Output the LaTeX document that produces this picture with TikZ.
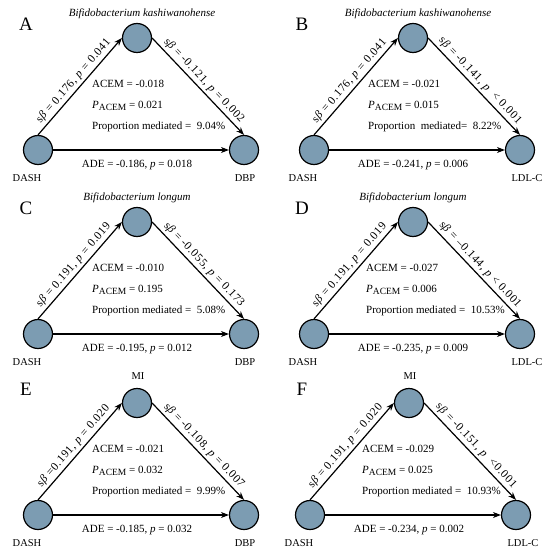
\documentclass[tikz,border=0pt]{standalone}
\usepackage{fontspec}
\setmainfont{Liberation Serif}
\usepackage{xcolor}
\usepackage{tikz}
\usetikzlibrary{arrows.meta, positioning}
\definecolor{medBlue}{RGB}{124, 156, 178}
\newcommand{\acemsub}{\raisebox{-0.45ex}{\fontsize{9.5}{10}\selectfont ACEM}}

\begin{document}
\begin{tikzpicture}[
  x=1pt, y=-1pt,
  dot/.style={circle, draw=black, line width=1.2pt, fill=medBlue,
    minimum size=29pt, inner sep=0pt},
  letter/.style={font=\fontsize{19}{20}\selectfont},
  title/.style={font=\fontsize{11}{12}\selectfont\itshape},
  varname/.style={font=\fontsize{10.5}{12}\selectfont},
  stat/.style={font=\fontsize{11}{13}\selectfont, anchor=west, inner sep=0pt},
  path/.style={font=\fontsize{11.5}{12}\selectfont\addfontfeatures{LetterSpace=5},
    midway, sloped, above=2.5pt, inner sep=0pt},
  link/.style={line width=1.2pt, -{Stealth[length=8pt, width=6pt]}},
  ade/.style={font=\fontsize{11}{13}\selectfont, midway, below=6pt, xshift=-4pt}
]
\useasboundingbox (0,0) rectangle (550,553);

% panel A
\begin{scope}[shift={(0,0)}]
\node[letter] (tagA) at (26,24) {A};
\node[title] (medA) at (142,14) {Bifidobacterium kashiwanohense};
\node[dot] (dashA) at (38,150) {};
\node[dot] (midA) at (137,38) {};
\node[dot] (outA) at (244,150) {};
\node[varname] (dashlabA) at (27,178) {DASH};
\node[varname] (outlabA) at (245,178) {DBP};
\node[stat] (acemA) at (92,84) {ACEM = -0.018};
\node[stat] (pacemA) at (92,106) {\textit{P}\acemsub{} = 0.021};
\node[stat] (propA) at (92,127) {Proportion mediated =\ \ 9.04\%};
\draw[link] (dashA.north) -- node[path] {s\textit{β} = 0.176, \textit{p} = 0.041} (midA.west);
\draw[link] (midA.east) -- node[path] {s\textit{β} = -0.121, \textit{p} = 0.002} (outA.north);
\draw[link] (dashA.east) -- node[ade] {ADE = -0.186, \textit{p} = 0.018} (outA.west);
\end{scope}

% panel B
\begin{scope}[shift={(276,0)}]
\node[letter] (tagB) at (26,24) {B};
\node[title] (medB) at (142,14) {Bifidobacterium kashiwanohense};
\node[dot] (dashB) at (38,150) {};
\node[dot] (midB) at (137,38) {};
\node[dot] (outB) at (244,150) {};
\node[varname] (dashlabB) at (27,178) {DASH};
\node[varname] (outlabB) at (251,178) {LDL-C};
\node[stat] (acemB) at (92,84) {ACEM = -0.021};
\node[stat] (pacemB) at (92,106) {\textit{P}\acemsub{} = 0.015};
\node[stat] (propB) at (92,127) {Proportion\ \ mediated= \ 8.22\%};
\draw[link] (dashB.north) -- node[path] {s\textit{β} = 0.176, \textit{p} = 0.041} (midB.west);
\draw[link] (midB.east) -- node[path] {s\textit{β} = -0.141, \textit{p} \ < 0.001} (outB.north);
\draw[link] (dashB.east) -- node[ade] {ADE = -0.241, \textit{p} = 0.006} (outB.west);
\end{scope}

% panel C
\begin{scope}[shift={(0,184)}]
\node[letter] (tagC) at (26,24) {C};
\node[title] (medC) at (137,14) {Bifidobacterium longum};
\node[dot] (dashC) at (38,150) {};
\node[dot] (midC) at (137,38) {};
\node[dot] (outC) at (244,150) {};
\node[varname] (dashlabC) at (27,178) {DASH};
\node[varname] (outlabC) at (245,178) {DBP};
\node[stat] (acemC) at (92,84) {ACEM = -0.010};
\node[stat] (pacemC) at (92,106) {\textit{P}\acemsub{} = 0.195};
\node[stat] (propC) at (92,127) {Proportion mediated =\ \ 5.08\%};
\draw[link] (dashC.north) -- node[path] {s\textit{β} = 0.191, \textit{p} = 0.019} (midC.west);
\draw[link] (midC.east) -- node[path] {s\textit{β} = -0.055, \textit{p} = 0.173} (outC.north);
\draw[link] (dashC.east) -- node[ade] {ADE = -0.195, \textit{p} = 0.012} (outC.west);
\end{scope}

% panel D
\begin{scope}[shift={(276,184)}]
\node[letter] (tagD) at (26,24) {D};
\node[title] (medD) at (137,14) {Bifidobacterium longum};
\node[dot] (dashD) at (38,150) {};
\node[dot] (midD) at (137,38) {};
\node[dot] (outD) at (244,150) {};
\node[varname] (dashlabD) at (27,178) {DASH};
\node[varname] (outlabD) at (251,178) {LDL-C};
\node[stat] (acemD) at (90,84) {ACEM = -0.027};
\node[stat] (pacemD) at (90,106) {\textit{P}\acemsub{} = 0.006};
\node[stat] (propD) at (90,127) {Proportion mediated =\ \ 10.53\%};
\draw[link] (dashD.north) -- node[path] {s\textit{β} = 0.191, \textit{p} = 0.019} (midD.west);
\draw[link] (midD.east) -- node[path] {s\textit{β} = –0.144, \textit{p} < 0.001} (outD.north);
\draw[link] (dashD.east) -- node[ade] {ADE = -0.235, \textit{p} = 0.009} (outD.west);
\end{scope}

% panel E
\begin{scope}[shift={(0,365)}]
\node[letter] (tagE) at (26,24) {E};
\node[varname] (medE) at (138,11) {MI};
\node[dot] (dashE) at (38,150) {};
\node[dot] (midE) at (137,38) {};
\node[dot] (outE) at (244,150) {};
\node[varname] (dashlabE) at (27,178) {DASH};
\node[varname] (outlabE) at (245,178) {DBP};
\node[stat] (acemE) at (92,84) {ACEM = -0.021};
\node[stat] (pacemE) at (92,106) {\textit{P}\acemsub{} = 0.032};
\node[stat] (propE) at (92,127) {Proportion mediated =\ \ 9.99\%};
\draw[link] (dashE.north) -- node[path] {s\textit{β} =0.191, \textit{p} = 0.020} (midE.west);
\draw[link] (midE.east) -- node[path] {s\textit{β} = -0.108, \textit{p} = 0.007} (outE.north);
\draw[link] (dashE.east) -- node[ade] {ADE = -0.185, \textit{p} = 0.032} (outE.west);
\end{scope}

% panel F
\begin{scope}[shift={(272,365)}]
\node[letter] (tagF) at (30,24) {F};
\node[varname] (medF) at (138,11) {MI};
\node[dot] (dashF) at (38,150) {};
\node[dot] (midF) at (137,38) {};
\node[dot] (outF) at (244,150) {};
\node[varname] (dashlabF) at (27,178) {DASH};
\node[varname] (outlabF) at (251,178) {LDL-C};
\node[stat] (acemF) at (90,84) {ACEM = -0.029};
\node[stat] (pacemF) at (90,106) {\textit{P}\acemsub{} = 0.025};
\node[stat] (propF) at (90,127) {Proportion mediated =\ \ 10.93\%};
\draw[link] (dashF.north) -- node[path] {s\textit{β} = 0.191, \textit{p} = 0.020} (midF.west);
\draw[link] (midF.east) -- node[path] {s\textit{β} = -0.151, \textit{p} \ <0.001} (outF.north);
\draw[link] (dashF.east) -- node[ade] {ADE = -0.234, \textit{p} = 0.002} (outF.west);
\end{scope}

\end{tikzpicture}
\end{document}
